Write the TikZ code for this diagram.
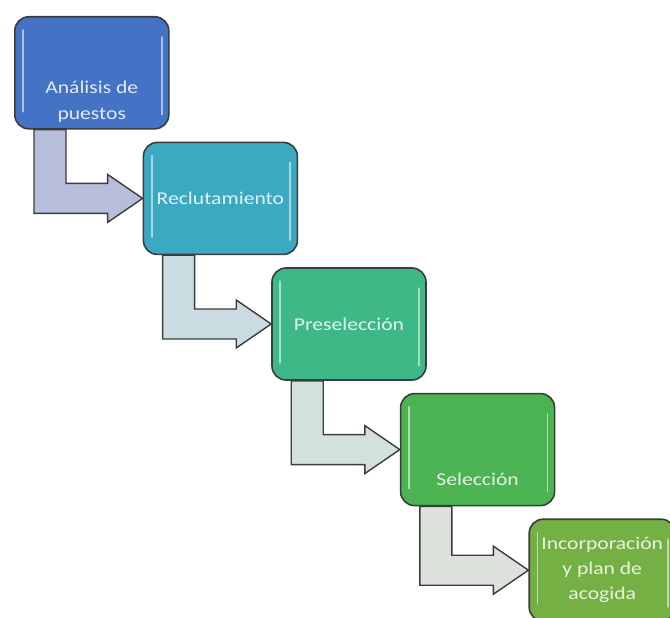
\documentclass[tikz,border=0pt]{standalone}
\usepackage{fontspec}
\setmainfont{Carlito}
\newfontfamily\stepfont[FakeStretch=1.2]{Carlito}
\usetikzlibrary{positioning}

\definecolor{edgegray}{HTML}{3C3C3C}
\definecolor{analisisblue}{HTML}{4472C4}
\definecolor{reclutteal}{HTML}{3AA9C1}
\definecolor{preselgreen}{HTML}{3EB887}
\definecolor{selecgreen}{HTML}{4BB352}
\definecolor{incorpgreen}{HTML}{74B044}
\definecolor{arrowA}{HTML}{B7BEDC}
\definecolor{arrowB}{HTML}{CADCE1}
\definecolor{arrowC}{HTML}{D2E1D9}
\definecolor{arrowD}{HTML}{DCE1DC}

\tikzset{
  stepbox/.style={draw=edgegray, line width=1.6pt, rounded corners=14pt,
    minimum width=154pt, minimum height=112pt, inner sep=0pt,
    font=\stepfont\fontsize{18}{26}\selectfont, align=center},
  bentarrow/.style={draw=edgegray, line width=1.4pt},
  gloss/.style={white, line width=1.8pt, line cap=round, opacity=0.55},
}

\begin{document}
\begin{tikzpicture}[x=1pt,y=-1pt]
\useasboundingbox (0,0) rectangle (670,618);

% Draw the steps
\node[stepbox, fill=analisisblue, text=white!85!analisisblue, anchor=north west,
  text height=99pt, text depth=5pt] (analisis) at (14,16) {Análisis de\\puestos};
\node[stepbox, fill=reclutteal, text=white!85!reclutteal,
  below right=12pt and -27pt of analisis] (reclutamiento) {Reclutamiento};
\node[stepbox, fill=preselgreen, text=white!85!preselgreen,
  below right=12pt and -27pt of reclutamiento] (preseleccion) {Preselección};
\node[stepbox, fill=selecgreen, text=white!85!selecgreen,
  text height=77pt, text depth=5pt,
  below right=12pt and -27pt of preseleccion] (seleccion) {Selección};
\node[stepbox, fill=incorpgreen, text=white!85!incorpgreen,
  minimum width=146pt, minimum height=102pt, font=\stepfont\fontsize{18}{25}\selectfont,
  below right=12pt and -27pt of seleccion] (incorporacion) {Incorporación\\y plan de\\acogida};

% Draw the highlights on the box sides
\foreach \b in {analisis, reclutamiento, preseleccion, seleccion, incorporacion} {
  \draw[gloss] ([xshift=9pt,yshift=-14pt]\b.north west) -- ([xshift=9pt,yshift=18pt]\b.south west);
  \draw[gloss] ([xshift=-8pt,yshift=-21pt]\b.north east) -- ([xshift=-8pt,yshift=15pt]\b.south east);
}

% Draw the bent arrows between the steps
\foreach \from/\to/\shade in {analisis/reclutamiento/arrowA, reclutamiento/preseleccion/arrowB,
    preseleccion/seleccion/arrowC, seleccion/incorporacion/arrowD}
  \draw[bentarrow, fill=\shade] ([xshift=20pt]\from.south west)
    |- ([xshift=-35pt,yshift=-15pt]\to.west) -- ([xshift=-35pt,yshift=-24pt]\to.west)
    -- (\to.west)
    -- ([xshift=-35pt,yshift=24pt]\to.west) -- ([xshift=-35pt,yshift=15pt]\to.west)
    -| ([xshift=52pt]\from.south west) -- cycle;
\end{tikzpicture}
\end{document}
